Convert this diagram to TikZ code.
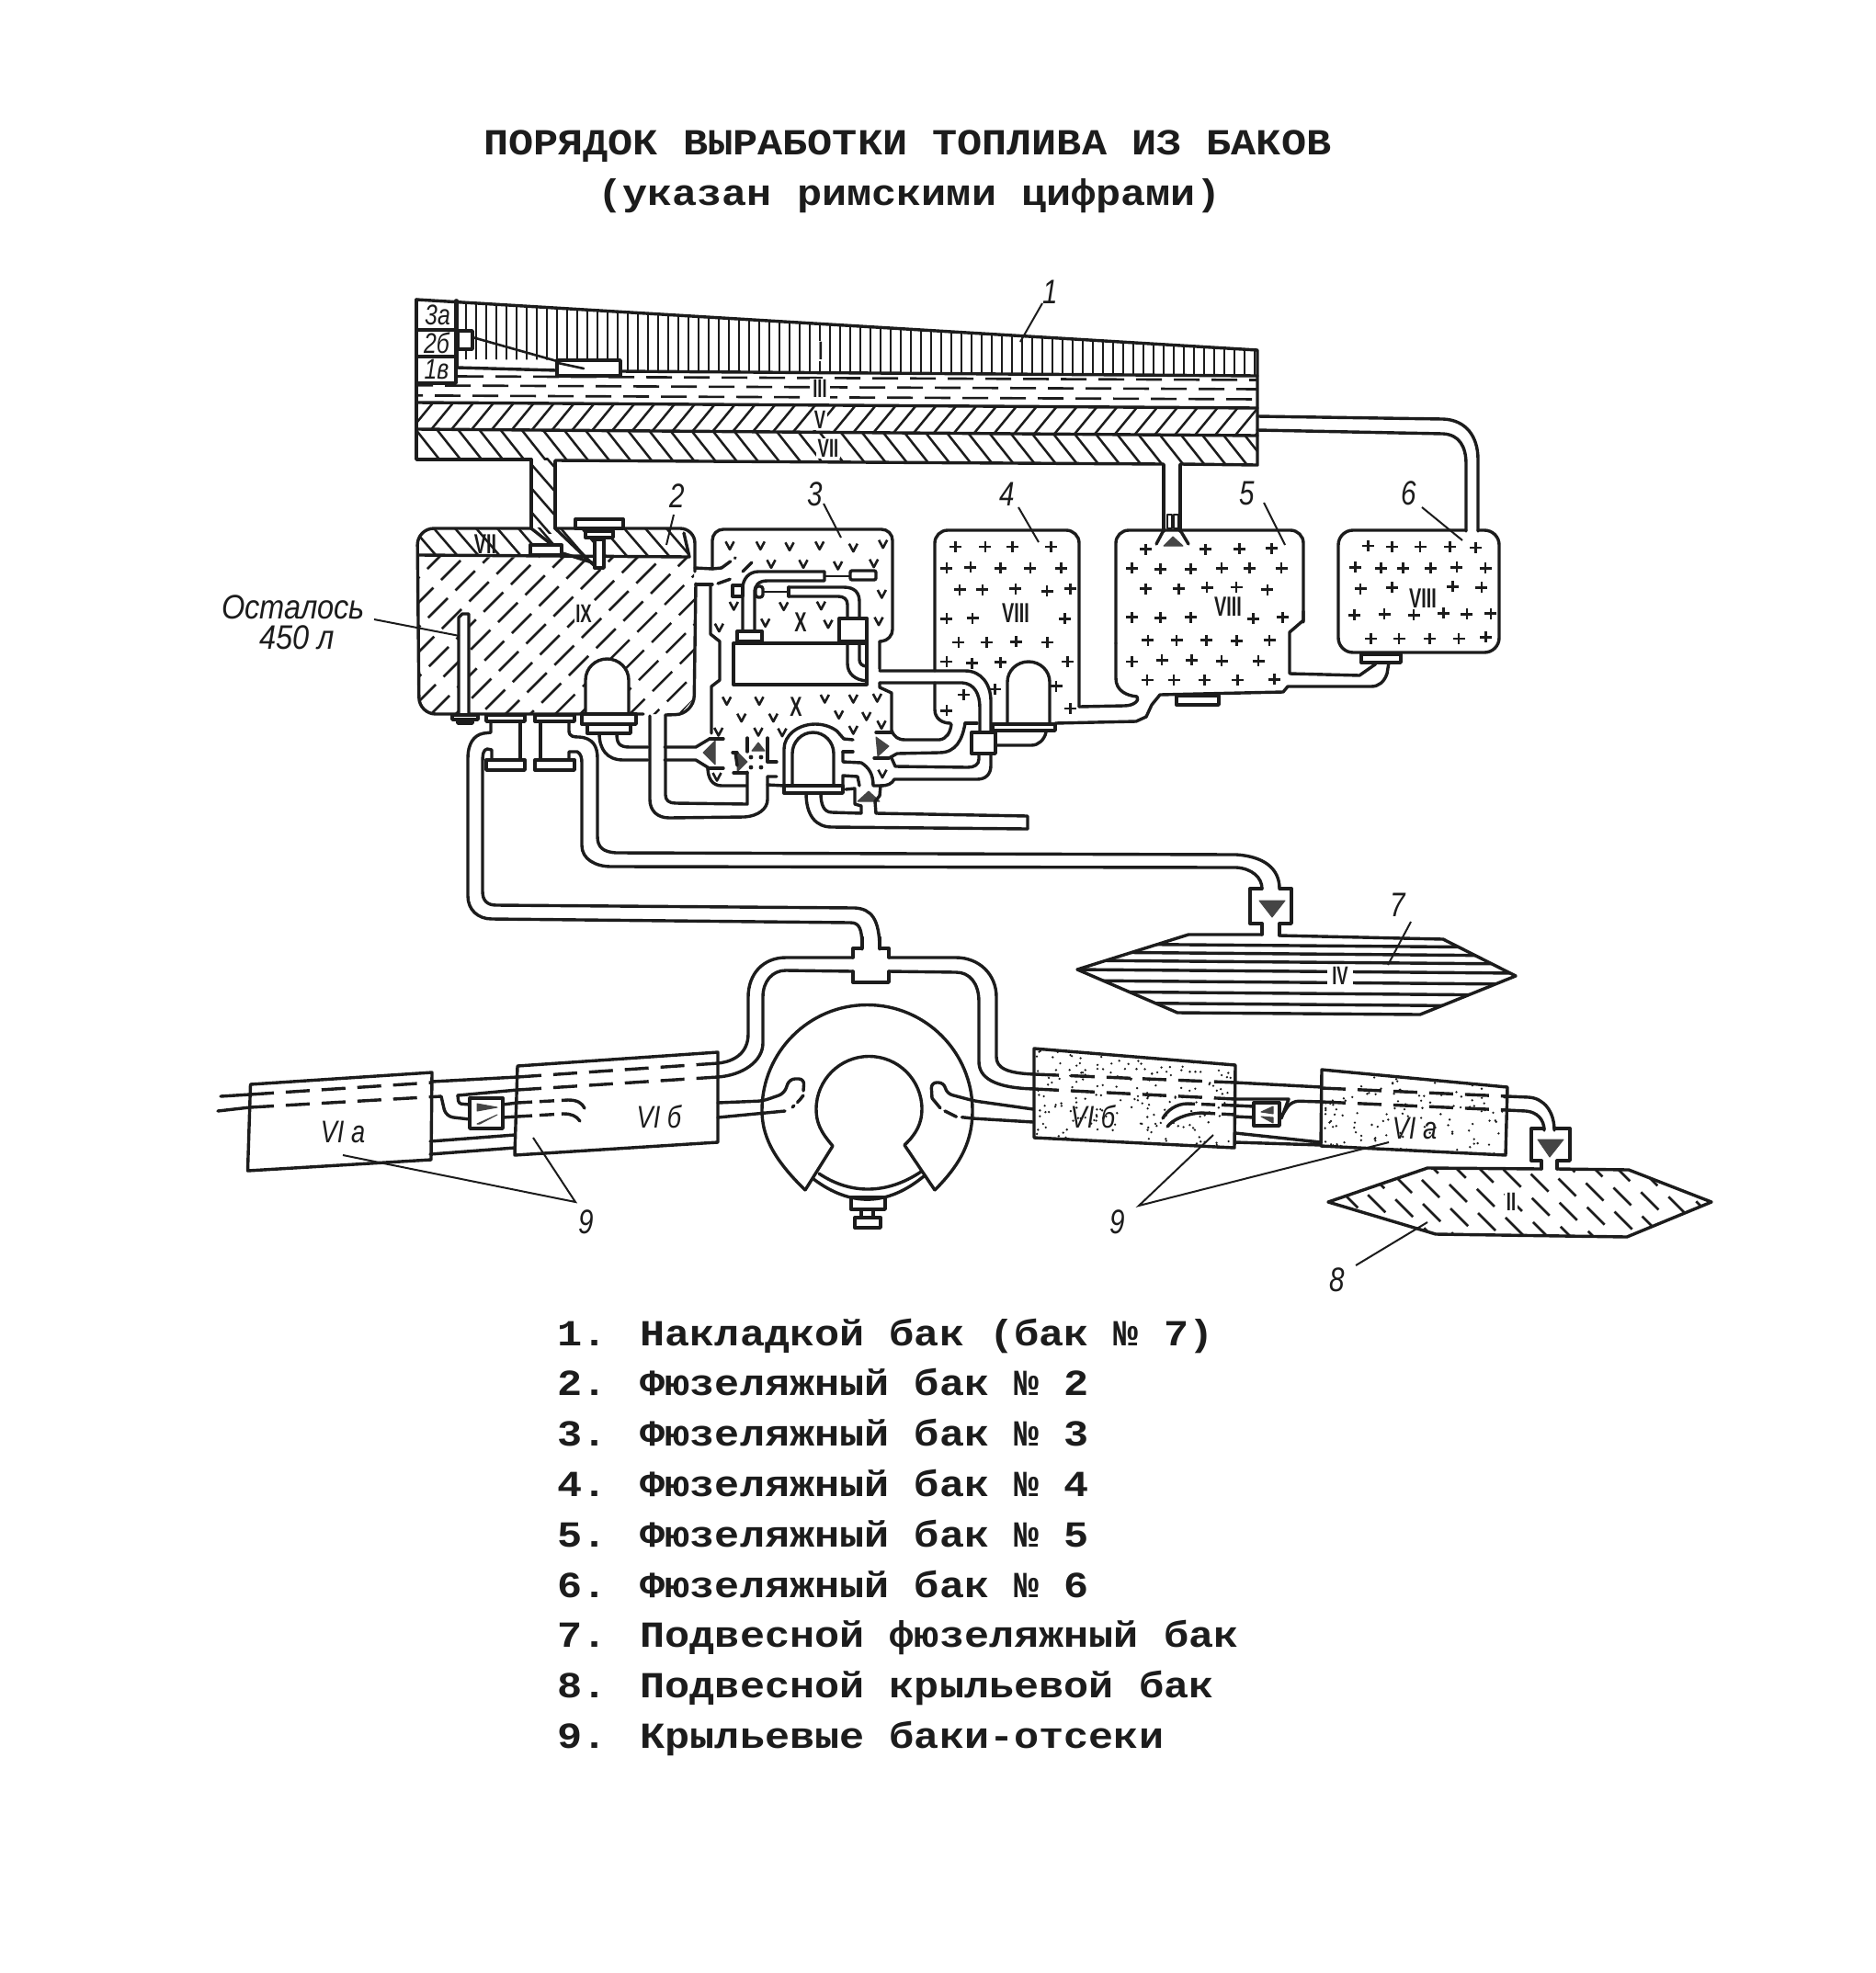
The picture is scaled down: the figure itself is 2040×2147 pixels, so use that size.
\documentclass[tikz,border=0pt]{standalone}
\usepackage{fontspec}
\newfontfamily\monof[FakeStretch=1.13]{Liberation Mono Bold}
\newfontfamily\labf[FakeStretch=0.8]{Liberation Sans}
\newfontfamily\romf[FakeStretch=0.66]{Liberation Sans Bold}
\definecolor{ink}{gray}{0.11}
\definecolor{valvegray}{gray}{0.27}
\tikzset{
  wall/.style={draw=ink,line width=3.4pt,line cap=round,line join=round},
  wallw/.style={wall,fill=white},
  thinw/.style={draw=ink,line width=2.6pt,line cap=round,line join=round},
  hatch/.style={draw=ink,line width=2.5pt},
  lead/.style={draw=ink,line width=2pt},
  dashw/.style={draw=ink,line width=3.4pt,dash pattern=on 26pt off 13pt},
  dashh/.style={draw=ink,line width=2.6pt,dash pattern=on 28pt off 13pt},
  marky/.style={draw=ink,line width=2.6pt,line join=round},
  tri/.style={fill=valvegray,draw=valvegray,line width=1pt,line join=round},
  heading/.style={anchor=base west,inner sep=0pt,text=ink,font=\monof\fontsize{40}{46}\selectfont},
  lab/.style={inner sep=0pt,text=ink,font=\labf\itshape\fontsize{37}{40}\selectfont},
  labs/.style={inner sep=0pt,text=ink,font=\labf\itshape\fontsize{31}{34}\selectfont},
  labm/.style={inner sep=0pt,text=ink,font=\labf\itshape\fontsize{34}{36}\selectfont},
  rom/.style={inner sep=1.5pt,fill=white,text=ink,font=\romf\fontsize{28}{30}\selectfont},
  romb/.style={inner sep=0pt,text=ink,font=\romf\fontsize{30}{32}\selectfont},
}
\newcommand\vmk[2]{\draw[marky] (#1-4.5,#2-4) -- (#1,#2+4.5) -- (#1+4.5,#2-4);}
\newcommand\pmk[2]{\draw[marky] (#1-6.5,#2) -- (#1+6.5,#2) (#1,#2-6) -- (#1,#2+6);}
\begin{document}
\begin{tikzpicture}[x=1pt,y=-1pt]
\useasboundingbox (0,0) rectangle (2040,2147);
\fill[white] (0,0) rectangle (2040,2147);

% ---------- headings
\node[heading] (t1) at (526,168) {ПОРЯДОК ВЫРАБОТКИ ТОПЛИВА ИЗ БАКОВ};
\node[heading] (t2) at (650,223) {(указан римскими цифрами)};
\foreach \n/\yy/\tx in {a/1464/{1. Накладкой бак (бак № 7)},b/1518/{2. Фюзеляжный бак № 2},c/1573/{3. Фюзеляжный бак № 3},d/1628/{4. Фюзеляжный бак № 4},e/1683/{5. Фюзеляжный бак № 5},f/1738/{6. Фюзеляжный бак № 6},g/1792/{7. Подвесной фюзеляжный бак},h/1847/{8. Подвесной крыльевой бак},i/1902/{9. Крыльевые баки-отсеки}}
  {\node[heading] (li\n) at (606,\yy) {\tx};}

% ---------- overhead tank hatching
\begin{scope}
\clip (453,326) -- (1368,381) -- (1368,409) -- (675,403) -- (675,392) -- (497,391) -- (497,327) -- cycle;
\foreach \x in {507,518,...,1365} \draw[hatch] (\x,320) -- (\x,412);
\end{scope}
\foreach \r/\a/\b in {410/498/1368,420/453/1368,431/453/1368}
  {\draw[dashh,dash phase=\r pt] (\a,\r-2+\a*0.003) -- (\b,\r+3.5);}
\begin{scope}
\clip (453,438) -- (1368,444) -- (1368,474) -- (453,467) -- cycle;
\foreach \x in {440,462,...,1370} \draw[hatch] (\x,476) -- (\x+33,436);
\end{scope}
\begin{scope}
\clip (453,467) -- (1368,474) -- (1368,506) -- (453,500) -- cycle;
\foreach \x in {425,448,...,1370} \draw[hatch] (\x,462) -- (\x+38,510);
\end{scope}
\begin{scope}
\clip (578,498) rectangle (604,580);
\foreach \y in {470,496,...,570} \draw[hatch] (570,\y) -- (610,\y+46);
\end{scope}

% ---------- overhead tank outline
\draw[wall] (453,326) -- (1368,381) -- (1368,506) -- (1284,505);
\draw[wall] (1266,505) -- (604,501);
\draw[wall] (578,500) -- (453,500) -- (453,326);
\draw[wall] (497,400) -- (605,403) (675,404) -- (1368,409);
\draw[wall] (497,400) -- (497,327);
\draw[wall] (453,359) -- (496,359) (453,388) -- (496,388) (453,417) -- (496,417) -- (496,327);
\draw[wall] (453,438) -- (1368,444) (453,467) -- (1368,474);
\draw[wallw] (498,360) rectangle (514,380);
\draw[thinw] (514,367) -- (606,393);
\draw[wallw] (606,392) rectangle (675,409);
\draw[thinw] (607,395) -- (635,401);
\node[labs] (n3a) at (476,343) {3а};
\node[labs] (n2b) at (475,373) {2б};
\node[labs] (n1v) at (475,402) {1в};
\node[rom,inner xsep=3pt] (rI) at (893,382) {I};
\node[rom,inner xsep=3pt] (rIII) at (892,423) {III};
\node[rom] (rV) at (892,457) {V};
\node[rom] (rVII) at (901,488) {VII};

% ---------- pipe from overhead tank to tank 6
\draw[wall] (1368,453) -- (1570,456) .. controls (1595,457) and (1608,475) .. (1608,500) -- (1608,578);
\draw[wall] (1368,468) -- (1570,472) .. controls (1587,473) and (1595,485) .. (1595,505) -- (1595,578);
% pipe to tank 5
\draw[wall] (1266,506) -- (1266,578) (1284,506) -- (1284,578);
% pipe to tank 2
\draw[wall] (578,500) -- (578,575) (604,502) -- (604,575);

% ---------- tank 2
\begin{scope}
\clip[rounded corners=16pt] (455,574) -- (756,574) -- (756,607) -- (455,605) -- cycle;
\foreach \x in {420,443,...,760} \draw[hatch] (\x,568) -- (\x+38,612);
\end{scope}
\begin{scope}
\clip (456,606) -- (755,607) -- (755,760) -- (740,777) -- (472,777) -- (456,762) -- cycle;
\foreach \c in {1030,1057,...,1570}{
  \pgfmathsetmacro\ph{mod(\c*7,41)}
  \draw[hatch,dash pattern=on 30pt off 12pt,dash phase=\ph pt] (\c-600,600) -- (\c-790,790);}
\end{scope}
\draw[wall,rounded corners=18pt] (578,575) -- (454,575) -- (456,777) -- (700,777);
\draw[wall,rounded corners=16pt] (604,575) -- (756,575) -- (756,622);
\draw[wall] (756,618) -- (775,619);
\draw[wall] (456,604) -- (750,606) -- (744,580);
\draw[wall] (578,575) -- (612,602) -- (644,612) (604,575) -- (646,615);
\draw[wall,rounded corners=20pt] (757,635) -- (755,777) -- (724,778);
\draw[wall] (757,636) -- (775,636);
\draw[wallw] (626,565) rectangle (678,575);
\draw[wallw] (637,578) rectangle (667,585);
\draw[wallw] (647,587) rectangle (657,618);
\draw[wallw] (577,593) rectangle (611,604);
% gauge tube
\draw[wallw] (499,777) -- (499,672) -- (503,668) -- (510,668) -- (510,777);
\draw[wallw] (492,778) rectangle (520,783);
\draw[wallw] (498,784) rectangle (514,787);
% dome
\draw[wallw] (637,777) -- (637,740) arc[start angle=180,end angle=360,x radius=23.5,y radius=23] -- (684,777);
\draw[wallw] (633,777) rectangle (692,788);
\draw[wallw] (639,788) rectangle (686,798);
\node[rom] (rIX) at (635,668) {IX};
\node[romb] (rVIIb) at (528,592) {VII};
% flanges and pipes below tank 2
\draw[wallw] (529,778) rectangle (571,785);
\draw[wallw] (582,778) rectangle (625,785);
\draw[wall] (566,785) -- (566,827) (588,785) -- (588,827);
\draw[wallw] (529,827) rectangle (571,838);
\draw[wallw] (582,827) rectangle (625,838);
% pipe to central T
\draw[wall] (534,785) -- (534,797) -- (526,798) .. controls (515,800) and (509,810) .. (509,825) -- (509,975) .. controls (509,990) and (520,1000) .. (535,1000) -- (925,1004) .. controls (935,1004) and (938,1010) .. (938,1033);
\draw[wall] (535,827) -- (535,816) -- (530,815) .. controls (526,816) and (525,820) .. (525,830) -- (525,970) .. controls (525,980) and (530,985) .. (540,985) -- (930,988) .. controls (948,989) and (957,1000) .. (957,1033);
% pipe to tank 7
\draw[wall] (619,785) -- (619,795) .. controls (619,802) and (625,802) .. (630,802) .. controls (645,803) and (650,812) .. (650,825) -- (650,910) .. controls (650,922) and (656,927) .. (670,928) -- (1345,930) .. controls (1375,932) and (1392,945) .. (1392,967);
\draw[wall] (619,827) -- (619,818) -- (628,818) .. controls (632,820) and (633,825) .. (633,830) -- (633,920) .. controls (633,935) and (648,943) .. (665,943) -- (1345,944) .. controls (1362,945) and (1373,955) .. (1373,967);

% ---------- tank 3
\draw[wall,rounded corners=12pt] (775,619) -- (775,576) -- (971,576) -- (971,697) -- (957,698);
\draw[wall] (957,698) -- (957,728) (957,743) -- (957,748) -- (970,754) -- (970,795);
\draw[wall] (773,637) -- (773,690) -- (783,698) -- (783,740) -- (774,747) -- (774,798);
\draw[wall] (775,619) -- (785,618);
\draw[wall,dash pattern=on 12pt off 6pt] (785,618) -- (800,607);
\draw[wall,dash pattern=on 14pt off 6pt] (781,635) -- (795,630) (808,622) -- (822,608);
% inner rectangle
\draw[wall] (798,700) rectangle (943,745);
\draw[wallw] (802,687) rectangle (829,698);
\draw[wallw] (913,673) rectangle (943,698);
\draw[wall] (808,687) -- (808,640) .. controls (808,630) and (815,622) .. (825,622) -- (897,622);
\draw[wall] (821,687) -- (821,645) .. controls (821,637) and (825,632) .. (835,632) -- (897,632) -- (897,622);
\draw[wall] (935,673) -- (935,655) .. controls (935,645) and (930,639) .. (918,639) -- (858,639);
\draw[wall] (922,673) -- (922,658) .. controls (922,652) and (918,649) .. (912,649) -- (858,649);
\draw[wall] (858,639) -- (858,649);
\draw[thinw] (897,627) -- (925,627) (858,644) -- (830,644);
\draw[wallw,rounded corners=2pt] (925,621) rectangle (953,631);
\draw[wallw,rounded corners=3pt] (822,638) rectangle (830,650);
\draw[wallw] (797,637) rectangle (808,649);
\draw[wall] (922,700) -- (922,722) .. controls (922,733) and (930,740) .. (943,741);
\draw[wall] (935,700) -- (935,718) .. controls (935,722) and (938,725) .. (943,725);
\draw[wall] (943,673) -- (943,745);
\node[romb] (rX1) at (871,677) {X};
% ---------- lower chamber
\draw[wall] (957,730) -- (1050,730) .. controls (1068,730) and (1078,745) .. (1078,763) -- (1078,797);
\draw[wall] (957,743) -- (1047,743) .. controls (1060,744) and (1066,755) .. (1066,770) -- (1066,797);
\draw[wallw] (1057,797) rectangle (1083,820);
\draw[wall] (1065,820) -- (1065,826) .. controls (1065,832) and (1060,835) .. (1053,835) -- (974,834) -- (970,825);
\draw[wall] (1078,820) -- (1078,833) .. controls (1078,843) and (1072,848) .. (1063,848) -- (973,848) .. controls (970,853) and (966,855) .. (958,855);
\draw[wall] (970,795) .. controls (973,802) and (977,805) .. (985,805) -- (1022,805) .. controls (1030,804) and (1034,797) .. (1035,788);
\draw[wall] (1050,787) .. controls (1047,805) and (1040,819) .. (1022,819) -- (976,820) -- (967,825);
\draw[wall] (1050,787) -- (1063,787);
\draw[wall] (953,797) -- (970,797) (951,825) -- (967,825);
\draw[tri] (953,802) -- (967,812) -- (955,823) -- cycle;
\node[romb] (rX2) at (866,769) {X};
% left valve and feed pipe
\draw[tri] (778,806) -- (765,819) -- (778,832) -- cycle;
\draw[wall] (772,804) -- (787,804) (770,836) -- (787,836);
\draw[wall] (723,813) -- (757,813) -- (772,804);
\draw[wall] (723,827) -- (757,827) -- (770,835) .. controls (770,847) and (775,855) .. (785,855) -- (812,855);
\draw[wall] (671,798) .. controls (671,808) and (673,813) .. (685,813) -- (705,813);
\draw[wall] (652,798) .. controls (652,815) and (660,827) .. (678,827) -- (705,827);
% vertical pipe
\draw[wall] (707,779) -- (707,870) .. controls (707,882) and (715,890) .. (728,890) -- (810,889) .. controls (825,888) and (835,880) .. (835,870) -- (835,845);
\draw[wall] (835,845) -- (845,845) (835,854) -- (853,855);
\draw[wall] (724,778) -- (724,865) .. controls (724,871) and (728,874) .. (735,874) -- (813,875) -- (813,840);
% centre valves
\draw[tri] (802,818) -- (813,829) -- (802,840) -- cycle;
\draw[tri] (818,817) -- (825,808) -- (832,817) -- cycle;
\fill[ink] (817,824) circle (2.4) (828,824) circle (2.4) (817,835) circle (2.4) (828,835) circle (2.4);
\draw[wall] (813,803) -- (813,818) (797,819) -- (802,819) (798,841) -- (813,841);
\draw[wall] (800,819) -- (802,833);
\draw[wall] (835,803) -- (835,829) -- (845,829);
% pump dome
\draw[wall] (862,855) -- (862,820) arc[start angle=180,end angle=360,x radius=22.5,y radius=23] -- (907,855);
\draw[wall] (853,855) -- (853,815) arc[start angle=180,end angle=315,x radius=34,y radius=27];
\draw[wall] (911,796) -- (918,804) -- (928,805);
\draw[wallw] (853,855) rectangle (917,863);
\draw[wall] (917,818) -- (928,818);
\draw[wall] (917,818) -- (917,829) -- (937,830) .. controls (945,835) and (950,842) .. (950,855) -- (960,855);
\draw[wall] (917,855) -- (917,844) -- (933,845) -- (935,855);
\draw[tri] (933,872) -- (945,861) -- (957,872) -- cycle;
\draw[wall] (958,855) -- (957,866) -- (952,872) -- (953,885);
\draw[wall] (953,885) -- (1118,888) -- (1118,902);
\draw[wall] (1118,902) -- (905,900) .. controls (888,900) and (877,888) .. (877,863);
\draw[wall] (937,885) -- (905,884) .. controls (896,884) and (893,875) .. (893,863);
\draw[wall] (937,885) -- (937,877) -- (930,875) -- (930,858) -- (920,859);

% ---------- tank 4
\draw[wall,rounded corners=14pt] (1017,730) -- (1017,577) -- (1174,577) -- (1174,769);
\draw[wall] (1017,743) -- (1017,772) .. controls (1017,782) and (1025,787) .. (1034,787);
\draw[wall] (1174,769) -- (1223,768) .. controls (1234,768) and (1240,762) .. (1237,758) .. controls (1226,757) and (1214,752) .. (1214,738) -- (1214,700);
% dome
\draw[wallw] (1096,788) -- (1096,742) arc[start angle=180,end angle=360,x radius=23,y radius=22] -- (1142,788);
\draw[wallw] (1080,788) rectangle (1148,795);
\draw[wall] (1085,811) -- (1122,811) .. controls (1130,811) and (1136,805) .. (1138,797);
\draw[wall] (1148,787) -- (1236,785) -- (1247,780);
% ---------- tank 5
\draw[wall,rounded corners=14pt] (1214,700) -- (1214,577) -- (1418,577) -- (1418,677);
\draw[wall] (1418,665) -- (1418,675) -- (1403,688) -- (1403,733) -- (1479,735) -- (1496,723) -- (1497,721);
\draw[wall] (1511,721) -- (1509,733) .. controls (1506,742) and (1500,747) .. (1492,747) -- (1401,747) -- (1396,753) -- (1262,756) -- (1253,767) -- (1247,780);
\draw[wallw] (1280,757) rectangle (1326,767);
\draw[wall] (1266,577) -- (1258,592) (1284,577) -- (1293,592);
\draw[tri] (1266,594) -- (1276,584) -- (1287,594) -- cycle;
\draw[thinw] (1270,560) rectangle (1275,575) (1277,560) rectangle (1282,575);
% ---------- tank 6
\draw[wall,rounded corners=16pt] (1595,577) -- (1456,577) -- (1456,710) -- (1631,710) -- (1631,577) -- (1608,577);
\draw[wallw] (1481,712) rectangle (1524,721);
\node[romb] (rVIII1) at (1105,667) {VIII};
\node[romb] (rVIII2) at (1336,660) {VIII};
\node[romb] (rVIII3) at (1548,651) {VIII};

% v marks, tanks 3 and lower chamber
\foreach \a/\b in {162/100,262/100,357/103,455/100,565/107,662/95,297/160,402/160,515/165,632/158,658/258,175/297,338/298,460/296,278/352,483/356,648/347,127/368}
 {\pgfmathsetmacro\px{740+\a/3}\pgfmathsetmacro\py{560+\b/3}\vmk{\px}{\py}}
\foreach \a/\b in {272/127,378/127,592/120,685/120,763/117,320/182,424/182,638/172,728/177,245/228,375/228,453/230,685/222,777/205,240/375,780/365}
 {\pgfmathsetmacro\px{700+\a/3}\pgfmathsetmacro\py{720+\b/3}\vmk{\px}{\py}}
% plus marks, tanks 4, 5, 6
\foreach \a/\b in {137/885,212/885,280/885,377/885,115/955,175/952,250/955,325/955,402/955,148/1025,205/1025,288/1022,367/1030,425/1022,115/1120,180/1118,412/1120,145/1197,215/1197,290/1195,368/1197,115/1260,178/1265,250/1262,418/1260,237/1350,390/1340,425/1413,158/1368,115/1420,
  615/893,765/893,850/892,930/890,580/955,652/958,728/958,805/955,875/955,955/955,615/1022,697/1022,768/1018,842/1017,920/1025,580/1115,652/1117,727/1115,885/1120,958/1115,620/1190,692/1190,767/1190,843/1192,925/1190,580/1260,655/1255,730/1255,805/1258,897/1258,618/1320,685/1320,762/1320,845/1320,938/1318,
  1173/882,1233/885,1303/885,1378/885,1443/888,1140/952,1205/955,1260/955,1330/955,1395/952,1467/955,1153/1022,1232/1018,1385/1015,1457/1018,1138/1108,1213/1105,1287/1108,1362/1102,1420/1105,1480/1103,1180/1185,1250/1185,1327/1185,1400/1185,1468/1180}
 {\pgfmathsetmacro\px{980+\a/2.306}\pgfmathsetmacro\py{300+\b/3}\pmk{\px}{\py}}

% ---------- tank 7 (IV)
\begin{scope}
\clip (1172,1055) -- (1293,1017) -- (1570,1022) -- (1649,1062) -- (1545,1104) -- (1281,1102) -- cycle;
\foreach \y in {1027,1036,1045,1055,1067,1079,1091} \draw[wall] (1170,\y) -- (1650,\y+4);
\end{scope}
\draw[wall] (1373,1017) -- (1293,1017) -- (1172,1055) -- (1281,1102) -- (1545,1104) -- (1649,1062) -- (1570,1022) -- (1392,1018);
\draw[wall] (1373,967) -- (1360,967) -- (1360,1005) -- (1373,1005) -- (1373,1017);
\draw[wall] (1392,967) -- (1405,967) -- (1405,1005) -- (1392,1005) -- (1392,1018);
\draw[tri] (1370,980) -- (1398,980) -- (1384,998) -- cycle;
\node[rom,inner xsep=5pt] (rIV) at (1458,1062) {IV};

% ---------- central T and wing feed pipes
\draw[wall] (938,1020) -- (938,1032) -- (928,1032) -- (928,1042) (957,1020) -- (957,1032) -- (967,1032) -- (967,1042);
\draw[wall] (928,1057) -- (928,1069) -- (967,1069) -- (967,1057);
\draw[wall] (928,1042) -- (855,1042) .. controls (830,1042) and (814,1060) .. (814,1085) -- (814,1125) .. controls (814,1145) and (800,1155) .. (781,1157);
\draw[wall] (928,1057) -- (855,1056) .. controls (840,1056) and (830,1068) .. (830,1085) -- (830,1135) .. controls (830,1155) and (808,1170) .. (781,1172);
\draw[wall] (967,1042) -- (1040,1042) .. controls (1065,1042) and (1084,1060) .. (1084,1085) -- (1084,1150) .. controls (1084,1162) and (1095,1168) .. (1126,1169);
\draw[wall] (967,1057) -- (1040,1058) .. controls (1055,1058) and (1065,1070) .. (1065,1090) -- (1065,1155) .. controls (1065,1172) and (1080,1184) .. (1126,1185);
% fuselage
\draw[wall] (876,1295) .. controls (840,1260) and (829,1235) .. (829,1208) arc[start angle=180,end angle=360,radius=114.5] .. controls (1058,1240) and (1047,1265) .. (1017,1295);
\draw[wall] (876,1295) -- (906,1247) .. controls (893,1232) and (888,1222) .. (888,1207) arc[start angle=180,end angle=360,radius=57.5] .. controls (1003,1222) and (997,1234) .. (984,1246) -- (1017,1295);
\draw[wall] (891,1277) .. controls (925,1300) and (965,1300) .. (1002,1275);
\draw[wall] (885,1283) .. controls (925,1313) and (965,1313) .. (1005,1280);
\draw[wall] (926,1303) rectangle (963,1316) (937,1316) -- (937,1325) (950,1316) -- (950,1325);
\draw[wall] (930,1325) rectangle (958,1336);
% inner fuselage pipes
\draw[wall,rounded corners=6pt] (781,1200) -- (830,1198) -- (853,1190) -- (859,1174) -- (875,1174) -- (874,1187);
\draw[wall,dash pattern=on 10pt off 5pt] (874,1192) -- (870,1197) -- (862,1205);
\draw[wall] (781,1216) -- (854,1209);
\draw[wall,rounded corners=6pt] (1124,1207) -- (1060,1198) -- (1030,1190) -- (1027,1178) -- (1013,1178) -- (1014,1195);
\draw[wall,dash pattern=on 14pt off 6pt] (1014,1195) -- (1024,1207) -- (1040,1215) -- (1058,1217);
\draw[wall] (1058,1217) -- (1124,1221);

% ---------- left wing tanks
\draw[wall] (240,1193) -- (272,1191);
\draw[wall] (237,1209) -- (272,1205);
\draw[wall] (272.5,1180) -- (470,1167) -- (469,1262) -- (269.5,1274) -- cycle;
\draw[wall] (563,1160) -- (781,1145) -- (781,1243) -- (560,1257) -- cycle;
\draw[dashw] (272,1191) -- (470,1178);
\draw[dashw] (272,1205) -- (480,1193);
\draw[wall] (470,1177) -- (563,1172);
\draw[wall] (468,1242) -- (560,1235) (468,1256) -- (560,1249);
\draw[wall,rounded corners=8pt] (480,1193) -- (485,1215) -- (511,1218);
\draw[wall] (498,1192) -- (563,1186);
\draw[wall,rounded corners=3pt] (498,1192) -- (499,1201) -- (511,1202);
\draw[wall] (511,1195) rectangle (547,1228);
\draw[tri] (519,1201) -- (541,1205) -- (519,1209) -- cycle;
\draw[tri] (519,1223) -- (541,1213) -- (522,1223) -- cycle;
\draw[wall] (547,1202) -- (563,1200) (547,1216) -- (563,1215);
\draw[dashw] (563,1172) -- (781,1157);
\draw[dashw] (563,1186) -- (781,1172);
\draw[dashw,dash pattern=on 16pt off 8pt] (563,1200) -- (618,1197);
\draw[wall] (618,1197) .. controls (628,1197) and (633,1200) .. (636,1206);
\draw[dashw,dash pattern=on 16pt off 8pt] (563,1215) -- (613,1212);
\draw[wall] (613,1212) .. controls (621,1212) and (627,1214) .. (631,1220);
\node[labm] (nVIa) at (373,1232) {VI а};
\node[labm] (nVIb) at (717,1215) {VI б};
\coordinate (c9l) at (626,1308);
\draw[lead] (373,1257) -- (c9l) -- (580,1238);
\node[lab] (n9l) at (638,1330) {9};

% ---------- right wing tanks
\begin{scope}
\clip (1125,1141) -- (1344,1159) -- (1343,1249) -- (1125,1238) -- cycle;
\pgfmathsetseed{11}
\foreach \i in {1,...,200}{\pgfmathsetmacro\dx{1128+rnd*214}\pgfmathsetmacro\dy{1143+rnd*104}\fill[ink] (\dx,\dy) circle (1.3);}
\end{scope}
\begin{scope}
\clip (1438,1164) -- (1640,1183) -- (1638,1257) -- (1437,1247) -- cycle;
\pgfmathsetseed{23}
\foreach \i in {1,...,130}{\pgfmathsetmacro\dx{1440+rnd*198}\pgfmathsetmacro\dy{1166+rnd*90}\fill[ink] (\dx,\dy) circle (1.3);}
\end{scope}
\draw[wall] (1125,1141) -- (1344,1159) -- (1343,1249) -- (1125,1238) -- cycle;
\draw[wall] (1438,1164) -- (1640,1183) -- (1638,1257) -- (1437,1247) -- cycle;
\draw[dashw] (1126,1169) -- (1344,1178);
\draw[dashw] (1126,1185) -- (1344,1196);
\draw[wall] (1344,1178) -- (1438,1183);
\draw[dashw] (1438,1184) -- (1640,1193);
\draw[dashw] (1438,1199) -- (1640,1208);
\draw[wall] (1344,1196) -- (1402,1196) -- (1394,1217);
\draw[wall,rounded corners=8pt] (1392,1218) -- (1405,1198) -- (1438,1199);
\draw[wall] (1344,1233) -- (1437,1243) (1344,1243) -- (1437,1246);
\draw[wall] (1344,1203) -- (1364,1204) (1344,1215) -- (1364,1216);
\draw[wallw] (1364,1200) rectangle (1392,1225);
\draw[tri] (1385,1204) -- (1372,1210) -- (1385,1212) -- cycle;
\draw[tri] (1385,1216) -- (1372,1215) -- (1385,1222) -- cycle;
\draw[dashw,dash pattern=on 15pt off 7pt] (1344,1203) -- (1292,1201);
\draw[wall] (1292,1201) .. controls (1280,1201) and (1270,1208) .. (1265,1217);
\draw[dashw,dash pattern=on 15pt off 7pt] (1344,1213) -- (1307,1211);
\draw[wall] (1307,1211) .. controls (1290,1212) and (1276,1218) .. (1270,1226);
\draw[wall] (1640,1193) -- (1663,1194) .. controls (1680,1195) and (1691,1210) .. (1691,1230);
\draw[wall] (1640,1208) -- (1660,1209) .. controls (1672,1210) and (1680,1218) .. (1680,1230);
\draw[wall] (1680,1228) -- (1666,1228) -- (1666,1263) -- (1677,1263) -- (1677,1272);
\draw[wall] (1691,1228) -- (1708,1228) -- (1708,1263) -- (1694,1263) -- (1694,1272);
\draw[tri] (1673,1240) -- (1701,1240) -- (1686,1259) -- cycle;
\node[labm] (nVIb2) at (1189,1215) {VI б};
\node[labm] (nVIa2) at (1539,1228) {VI а};
\coordinate (c9r) at (1239,1312);
\draw[lead] (1320,1235) -- (c9r) -- (1511,1243);
\node[lab] (n9r) at (1216,1330) {9};

% ---------- tank 8 (II)
\begin{scope}
\clip (1553,1271) -- (1772,1273) -- (1862,1308) -- (1770,1346) -- (1562,1343) -- (1445,1308) -- cycle;
\foreach \c in {1400,1425,...,1880}{
  \pgfmathsetmacro\ph{mod(\c*5,44)}
  \draw[hatch,line width=2.6pt,dash pattern=on 27pt off 17pt,dash phase=\ph pt] (\c,1262) -- (\c+92,1354);}
\end{scope}
\draw[wall] (1677,1272) -- (1553,1271) -- (1445,1308) -- (1562,1343) -- (1770,1346) -- (1862,1308) -- (1772,1273) -- (1694,1272);
\node[rom] (rII) at (1644,1308) {II};
\draw[lead] (1553,1330) -- (1475,1377);
\node[lab] (n8) at (1455,1393) {8};

% ---------- number labels and leaders
\draw[lead] (1134,330) -- (1110,372);
\node[lab] (n1) at (1143,318) {1};
\draw[lead] (733,560) -- (725,593);
\node[lab] (n2) at (737,540) {2};
\draw[lead] (896,548) -- (915,585);
\node[lab] (n3) at (887,538) {3};
\draw[lead] (1108,552) -- (1130,590);
\node[lab] (n4) at (1096,538) {4};
\draw[lead] (1375,547) -- (1398,593);
\node[lab] (n5) at (1357,537) {5};
\draw[lead] (1547,552) -- (1591,588);
\node[lab] (n6) at (1533,537) {6};
\node[lab] (n7) at (1521,985) {7};
\draw[lead] (1535,1003) -- (1510,1050);
\node[lab,xscale=1.1] (nrest) at (319,661) {Осталось};
\node[lab,xscale=1.1] (n450) at (323,694) {450 л};
\draw[lead] (407,674) -- (500,692);
\end{tikzpicture}
\end{document}
